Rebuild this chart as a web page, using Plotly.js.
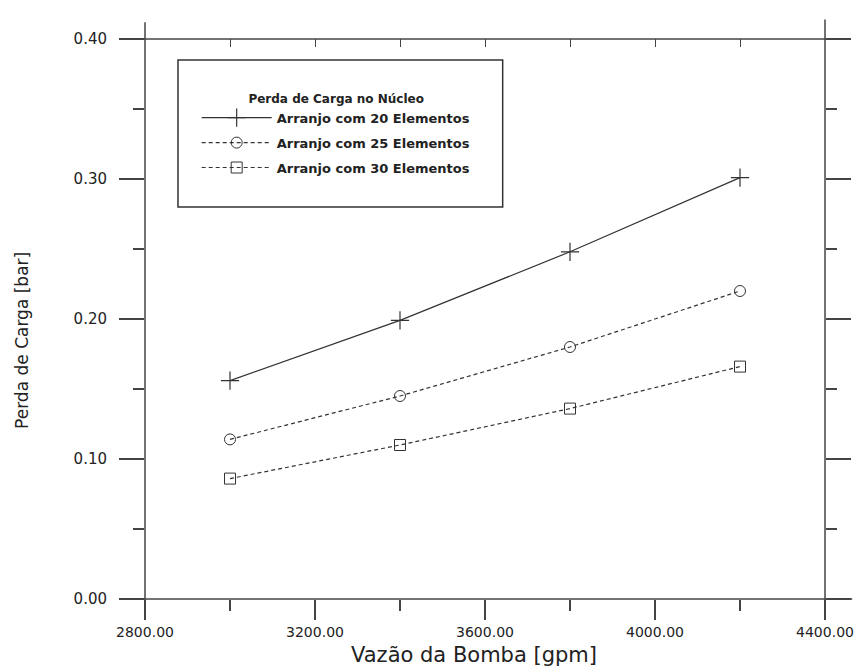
<!DOCTYPE html>
<html>
<head>
<meta charset="utf-8">
<script src="https://cdn.plot.ly/plotly-3.0.1.min.js"></script>
<style>html,body{margin:0;padding:0;background:#fff;}#chart{width:868px;height:666px;}</style>
</head>
<body>
<div id="chart"></div>
<script>
const vazao = [3000, 3400, 3800, 4200];
const perda20 = [0.156, 0.199, 0.248, 0.301];
const perda25 = [0.114, 0.145, 0.180, 0.220];
const perda30 = [0.086, 0.110, 0.136, 0.166];
const seriesNames = ["Arranjo com 20 Elementos", "Arranjo com 25 Elementos", "Arranjo com 30 Elementos"];
const xTicks = [2800, 3200, 3600, 4000, 4400];
const xTickText = ["2800.00", "3200.00", "3600.00", "4000.00", "4400.00"];
const yTicks = [0, 0.1, 0.2, 0.3, 0.4];
const yTickText = ["0.00", "0.10", "0.20", "0.30", "0.40"];
const xTitle = "Vazão da Bomba [gpm]";
const yTitle = "Perda de Carga [bar]";
const legendTitle = "Perda de Carga no Núcleo";

const ink = "#333";
const traces = [
  {x: vazao, y: perda20, name: seriesNames[0], mode: "lines+markers", legendgroup: "a",
   line: {color: ink, width: 1.2, dash: "solid"},
   marker: {symbol: "cross-thin-open", size: 13, color: ink, line: {color: ink, width: 1.2}}},
  {x: vazao, y: perda25, name: seriesNames[1], mode: "lines+markers", legendgroup: "b",
   line: {color: ink, width: 1.2, dash: "4px,3px"},
   marker: {symbol: "circle-open", size: 11, color: ink, line: {color: ink, width: 1}}},
  {x: vazao, y: perda30, name: seriesNames[2], mode: "lines+markers", legendgroup: "c",
   line: {color: ink, width: 1.2, dash: "4px,3px"},
   marker: {symbol: "square-open", size: 11, color: ink, line: {color: ink, width: 1}}},
  {x: [], y: [], xaxis: "x2", yaxis: "y", showlegend: false, hoverinfo: "skip", mode: "lines"}
];

const frame = {color: "#444", width: 1.5};
const layout = {
  width: 868, height: 666,
  margin: {l: 145, r: 43, t: 39, b: 67},
  paper_bgcolor: "#fff", plot_bgcolor: "#fff",
  font: {family: "DejaVu Sans, Liberation Sans, sans-serif", color: "#222", size: 11},
  showlegend: true,
  legend: {
    x: 0.076, y: 0.914, xanchor: "left", yanchor: "top",
    borderwidth: 0, bgcolor: "rgba(0,0,0,0)",
    font: {size: 13, weight: "bold", color: "#222"},
    itemwidth: 70,
    title: {text: legendTitle, side: "top center", font: {size: 12, weight: "bold"}},
    tracegroupgap: 5
  },
  annotations: [
    {text: xTitle, xref: "paper", yref: "paper", x: 0.484, y: -0.1, xanchor: "center", yanchor: "middle",
     showarrow: false, font: {size: 21, color: "#222"}},
    {text: yTitle, xref: "paper", yref: "paper", x: -0.181, y: 0.4625, xanchor: "center", yanchor: "middle",
     textangle: -90, showarrow: false, font: {size: 17, color: "#222"}}
  ],
  shapes: [
    {type: "rect", xref: "paper", yref: "paper", x0: 0.0485, x1: 0.526, y0: 0.70, y1: 0.9625,
     line: {color: "#333", width: 1.5}, fillcolor: "rgba(0,0,0,0)", layer: "below"},
    {type: "line", xref: "paper", yref: "paper", x0: -0.035, x1: 1.03, y0: 1, y1: 1, line: frame},
    {type: "line", xref: "paper", yref: "paper", x0: -0.035, x1: 1.04, y0: 0, y1: 0, line: frame},
    {type: "line", xref: "paper", yref: "paper", x0: 0, x1: 0, y0: -0.02, y1: 1.03, line: frame},
    {type: "line", xref: "paper", yref: "paper", x0: 1, x1: 1, y0: -0.03, y1: 1.035, line: frame}
  ],
  xaxis: {
    range: [2800, 4400], tickvals: xTicks, ticktext: xTickText,
    showgrid: false, zeroline: false, showline: false,
    ticks: "outside", ticklen: 20, tickcolor: "#444", tickwidth: 1.2,
    minor: {dtick: 200, tick0: 2800, ticks: "outside", ticklen: 11, tickcolor: "#444"},
    tickfont: {size: 14}
  },
  xaxis2: {
    overlaying: "x", side: "top", anchor: "y",
    range: [2800, 4400], tickvals: xTicks, showticklabels: false,
    showgrid: false, zeroline: false, showline: false,
    ticks: "inside", ticklen: 8, tickcolor: "#444",
    minor: {dtick: 200, tick0: 2800, ticks: "inside", ticklen: 8, tickcolor: "#444"}
  },
  yaxis: {
    range: [0, 0.4], tickvals: yTicks, ticktext: yTickText,
    showgrid: false, zeroline: false, showline: false,
    mirror: "ticks", ticks: "outside", ticklen: 25, tickcolor: "#444", tickwidth: 1.2,
    minor: {dtick: 0.05, tick0: 0, ticks: "outside", ticklen: 11, tickcolor: "#444"},
    ticklabelstandoff: 9,
    tickfont: {size: 15}
  }
};

Plotly.newPlot("chart", traces, layout, {displayModeBar: false, staticPlot: true});
</script>
</body>
</html>
